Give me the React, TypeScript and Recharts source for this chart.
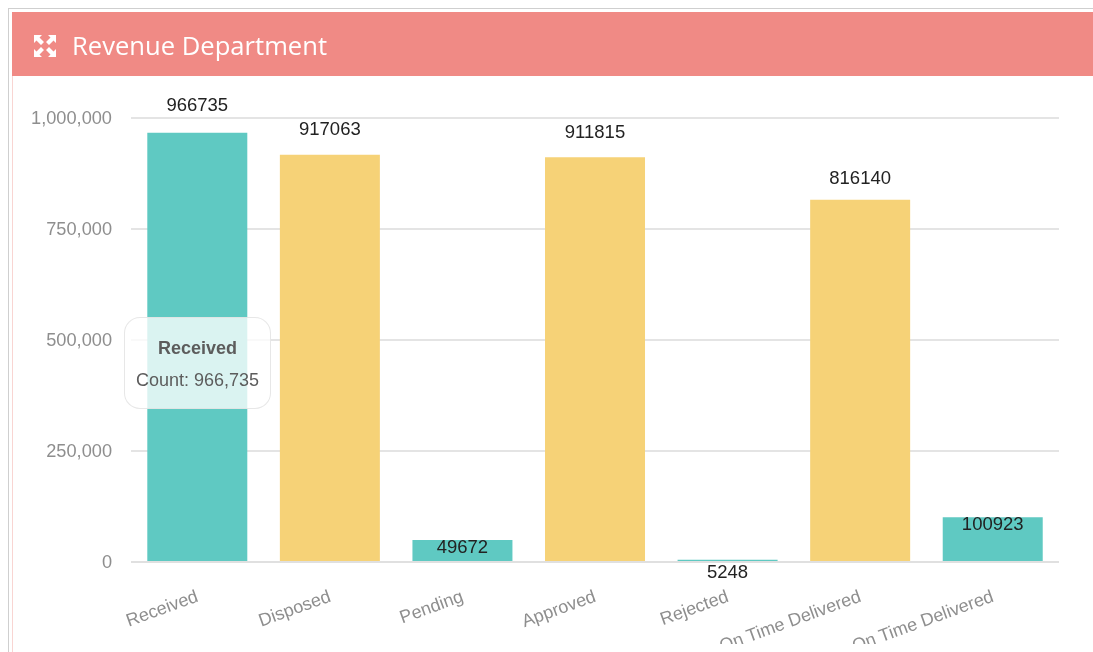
import { Bar, BarChart, CartesianGrid, Cell, LabelList, Tooltip, XAxis, YAxis } from "recharts";

const categories = ["Received", "Disposed", "Pending", "Approved", "Rejected", "On Time Delivered", "On Time Delivered"];
const counts = [966735, 917063, 49672, 911815, 5248, 816140, 100923];
const barKinds = ["teal", "yellow", "teal", "yellow", "teal", "yellow", "teal"];
const yTicks = [0, 250000, 500000, 750000, 1000000];

// hand tweaked, the labels do not sit at one fixed distance from the bars
const labelShift = [-28, -26, 7, -26, 12, -22, 6];

const kindColors: Record<string, string> = { teal: "#5fc9c2", yellow: "#f6d277" };
const FONT = '"Liberation Sans", Arial, sans-serif';

const data = categories.map((name, i) => ({ name, count: counts[i] }));

function RotatedTick({ x, y, payload }: any) {
  return (
    <text
      x={x + 2}
      y={y + 31}
      transform={`rotate(-20 ${x + 2} ${y + 31})`}
      textAnchor="end"
      fontFamily={FONT}
      fontSize={18}
      fill="#8e8e8e"
    >
      {payload.value}
    </text>
  );
}

function CountLabel({ x, y, width, value, index }: any) {
  return (
    <text
      x={x + width / 2}
      y={y + labelShift[index]}
      textAnchor="middle"
      dominantBaseline="central"
      fontFamily={FONT}
      fontSize={18.5}
      fill="#222"
    >
      {value}
    </text>
  );
}

function CountTooltip({ payload }: any) {
  const row = payload?.[0]?.payload ?? data[0];
  return (
    <div
      style={{
        boxSizing: "border-box",
        width: 147,
        height: 92,
        borderRadius: 16,
        border: "1px solid rgba(225, 225, 225, 0.8)",
        background: "rgba(255, 255, 255, 0.77)",
        fontFamily: FONT,
        fontSize: 18,
        lineHeight: "20px",
        color: "#5c5c5c",
        textAlign: "center",
        paddingTop: 20,
      }}
    >
      <div style={{ fontWeight: 700, marginBottom: 12 }}>{row.name}</div>
      <div>Count: {row.count.toLocaleString("en-US")}</div>
    </div>
  );
}

function ExpandIcon() {
  return (
    <svg width={24} height={24} viewBox="0 0 24 24" style={{ position: "absolute", left: 33, top: 34 }}>
      <g fill="#fff">
        <path d="M1 1h8L6.500 3.500 11 8l-3 3-4.500-4.500L1 9z" />
        <path d="M23 1h-8l2.500 2.500L13 8l3 3 4.500-4.500L23 9z" />
        <path d="M1 23h8l-2.500-2.500L11 16l-3-3-4.500 4.500L1 15z" />
        <path d="M23 23h-8l2.500-2.500L13 16l3-3 4.500 4.500L23 15z" />
      </g>
    </svg>
  );
}

export default function App() {
  return (
    <div style={{ position: "absolute", left: 0, top: 0, width: 1093, height: 652, overflow: "hidden", background: "#fff", filter: "blur(0.5px)" }}>
      <div style={{ position: "absolute", left: 8, top: 8, width: 1085, height: 644, borderLeft: "1px solid #cfcfcf", borderTop: "1px solid #cfcfcf" }} />
      <div style={{ position: "absolute", left: 12, top: 76, width: 1, height: 576, background: "#f9d5d2" }} />
      <div style={{ position: "absolute", left: 12, top: 12, width: 1081, height: 64, background: "#f08a85" }} />
      <ExpandIcon />
      <div
        style={{
          position: "absolute",
          left: 72,
          top: 29,
          fontFamily: '"Open Sans", sans-serif',
          fontSize: 25.6,
          lineHeight: "34px",
          color: "#fff",
        }}
      >
        Revenue Department
      </div>
      <div style={{ position: "absolute", left: 0, top: 0, width: 1093, height: 644, overflow: "hidden" }}>
        <BarChart
          width={1093}
          height={644}
          data={data}
          barCategoryGap={16.3}
          margin={{ top: 118, right: 34, left: 0, bottom: 0 }}
        >
          <CartesianGrid vertical={false} stroke="#e4e4e4" strokeWidth={2} />
          <XAxis
            dataKey="name"
            height={82}
            axisLine={{ stroke: "#e0e0e0", strokeWidth: 2 }}
            tickLine={false}
            interval={0}
            tick={<RotatedTick />}
          />
          <YAxis
            width={131}
            domain={[0, 1000000]}
            ticks={yTicks}
            axisLine={false}
            tickLine={false}
            tickMargin={13}
            tickFormatter={(v: number) => v.toLocaleString("en-US")}
            tick={{ fill: "#8e8e8e", fontSize: 18.2, fontFamily: FONT }}
          />
          <Tooltip
            active
            defaultIndex={0}
            cursor={false}
            position={{ x: 124, y: 317 }}
            content={<CountTooltip />}
            isAnimationActive={false}
            wrapperStyle={{ outline: "none" }}
          />
          <Bar dataKey="count" isAnimationActive={false}>
            {data.map((_, i) => (
              <Cell key={i} fill={kindColors[barKinds[i]]} />
            ))}
            <LabelList dataKey="count" content={<CountLabel />} />
          </Bar>
        </BarChart>
      </div>
    </div>
  );
}
